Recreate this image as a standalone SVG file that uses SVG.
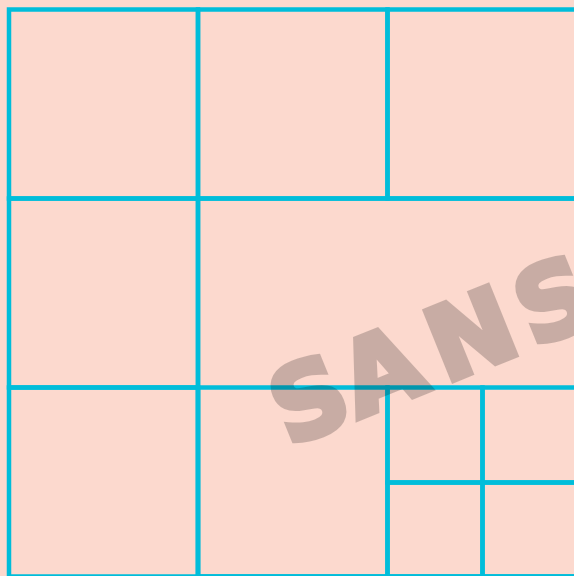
<svg xmlns="http://www.w3.org/2000/svg" width="574" height="576" viewBox="0 0 574 576">
  <style>
    .cell { fill: none; stroke: #00BDDA; stroke-width: 4.5; }
    .wm { font-family: "DejaVu Sans", sans-serif; font-weight: bold; font-size: 102px; fill: #000; stroke: #000; stroke-width: 6; stroke-linejoin: miter; }
  </style>
  <rect x="0" y="0" width="574" height="576" fill="#FCD9CE"/>
  <g id="grid">
    <rect class="cell" x="9" y="9.5" width="189" height="189"/>
    <rect class="cell" x="198" y="9.5" width="189.5" height="189"/>
    <rect class="cell" x="387.5" y="9.5" width="189" height="189"/>
    <rect class="cell" x="9" y="198.5" width="189" height="189"/>
    <rect class="cell" x="198" y="198.5" width="378.5" height="378"/>
    <rect class="cell" x="9" y="387.5" width="189" height="189"/>
    <rect class="cell" x="198" y="387.5" width="189.5" height="189"/>
    <rect class="cell" x="387.5" y="387.5" width="95" height="95"/>
    <rect class="cell" x="482.5" y="387.5" width="94" height="95"/>
    <rect class="cell" x="387.5" y="482.5" width="95" height="94"/>
    <rect class="cell" x="482.5" y="482.5" width="94" height="94"/>
  </g>
  <g id="watermark" opacity="0.2">
    <text class="wm" transform="translate(360,421) rotate(-22)" x="-76 -1 93 188" y="-3">SANS</text>
  </g>
</svg>
